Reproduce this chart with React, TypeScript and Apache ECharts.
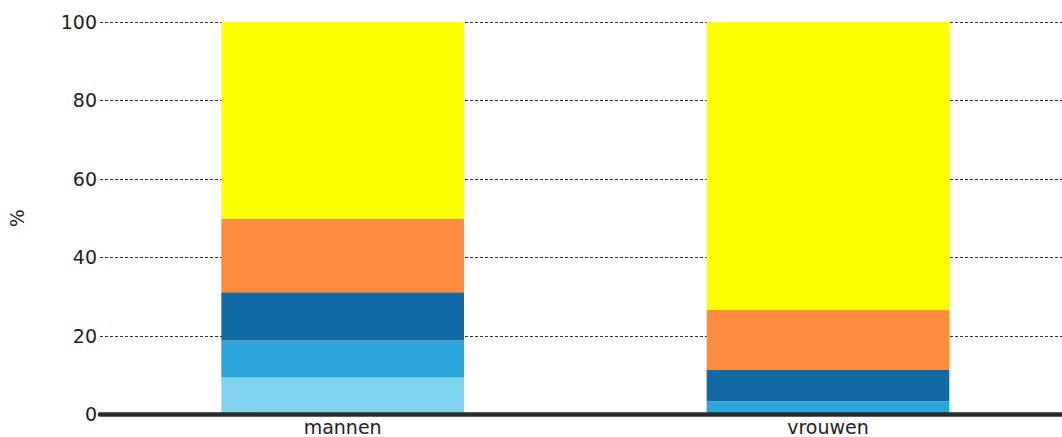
import React, { useEffect, useRef } from "react";
import * as echarts from "echarts";

const categories = ["mannen", "vrouwen"];
const segLightBlue = [9.4, 0];
const segMidBlue = [9.4, 3.3];
const segDarkBlue = [12.3, 8.1];
const segOrange = [18.8, 15.2];
const segYellow = [50.1, 73.4];
const segColors = ["#7fd3ef", "#2ca6da", "#116aa6", "#fd8c3d", "#ffff00"];
const yTicks = [0, 20, 40, 60, 80, 100];

export default function App() {
  const ref = useRef<HTMLDivElement>(null);
  useEffect(() => {
    if (!ref.current) return;
    const chart = echarts.init(ref.current, null, { renderer: "svg" });
    const segs = [segLightBlue, segMidBlue, segDarkBlue, segOrange, segYellow];
    const font = "DejaVu Sans, Verdana, sans-serif";
    chart.setOption({
      animation: false,
      grid: { left: 100, top: 22, width: 970.6, height: 392.3, outerBoundsMode: "none", containLabel: false },
      xAxis: {
        type: "category",
        data: categories,
        axisLine: { show: true, lineStyle: { color: "#2b2b2b", width: 4.5 } },
        axisTick: { show: false },
        axisLabel: { color: "#1e1e28", fontSize: 19, fontFamily: font, margin: 3, lineHeight: 19 },
        z: 10,
      },
      yAxis: {
        type: "value",
        min: yTicks[0],
        max: yTicks[yTicks.length - 1],
        interval: 20,
        name: "%",
        nameLocation: "middle",
        nameGap: 74,
        nameTextStyle: { color: "#1e1e28", fontSize: 19, fontFamily: font },
        axisLine: { show: false },
        axisTick: { show: false },
        axisLabel: { color: "#1e1e28", fontSize: 19, fontFamily: font, margin: 3 },
        splitLine: { show: true, lineStyle: { color: "#333", width: 1, type: [3, 2] } },
      },
      series: segs.map((d, i) => ({
        type: "bar",
        stack: "total",
        data: d,
        barWidth: "50%",
        itemStyle: { color: segColors[i] },
      })),
    });
    return () => chart.dispose();
  }, []);
  return (
    <div
      ref={ref}
      style={{ position: "fixed", left: 0, top: 0, width: 1062, height: 437, background: "#fff" }}
    />
  );
}
